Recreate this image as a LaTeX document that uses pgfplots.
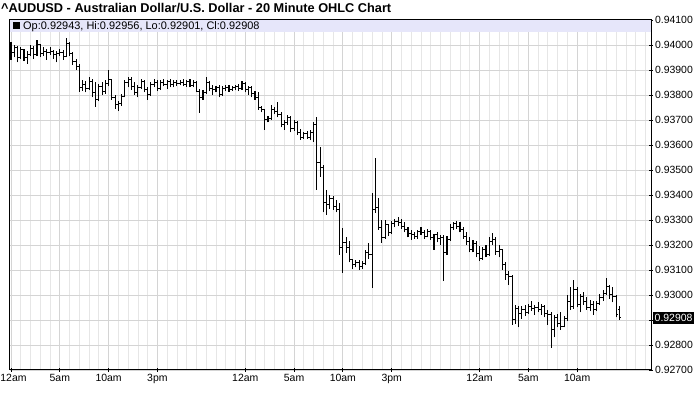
\documentclass[border=0pt]{standalone}
\usepackage{fontspec}
\setmainfont{Liberation Sans}
\usepackage{pgfplots}
\usepackage{pgfplotstable}
\pgfplotsset{compat=1.18}

\definecolor{band}{RGB}{230,230,250}
\definecolor{gridmin}{RGB}{230,230,230}
\definecolor{gridmaj}{RGB}{212,212,212}

% 20 minute bars, i = bar number from the first 12am
\pgfplotstableread{
i o h l c
0 0.93990 0.94010 0.93940 0.93970
1 0.93970 0.94000 0.93950 0.93990
2 0.93990 0.93995 0.93930 0.93950
3 0.93950 0.93990 0.93945 0.93980
4 0.93980 0.93985 0.93935 0.93950
5 0.93950 0.93975 0.93925 0.93960
6 0.93960 0.94000 0.93955 0.93985
7 0.93985 0.93995 0.93945 0.93960
8 0.93960 0.94020 0.93955 0.94000
9 0.94000 0.94005 0.93950 0.93965
10 0.93965 0.93990 0.93955 0.93975
11 0.93975 0.93985 0.93940 0.93970
12 0.93970 0.93990 0.93960 0.93975
13 0.93975 0.93980 0.93945 0.93960
14 0.93960 0.93975 0.93930 0.93965
15 0.93965 0.93985 0.93955 0.93970
16 0.93970 0.93980 0.93940 0.93955
17 0.93955 0.94028 0.93950 0.94005
18 0.94005 0.94010 0.93955 0.93965
19 0.93965 0.93970 0.93920 0.93935
20 0.93935 0.93945 0.93900 0.93915
21 0.93915 0.93925 0.93812 0.93830
22 0.93830 0.93860 0.93815 0.93840
23 0.93840 0.93855 0.93810 0.93825
24 0.93825 0.93870 0.93820 0.93855
25 0.93855 0.93862 0.93790 0.93810
26 0.93810 0.93850 0.93752 0.93780
27 0.93780 0.93845 0.93775 0.93835
28 0.93835 0.93850 0.93800 0.93815
29 0.93815 0.93860 0.93805 0.93845
30 0.93845 0.93900 0.93835 0.93860
31 0.93860 0.93865 0.93780 0.93790
32 0.93790 0.93800 0.93745 0.93760
33 0.93760 0.93775 0.93735 0.93765
34 0.93765 0.93805 0.93755 0.93795
35 0.93795 0.93860 0.93790 0.93850
36 0.93850 0.93870 0.93830 0.93860
37 0.93860 0.93870 0.93820 0.93835
38 0.93835 0.93850 0.93800 0.93810
39 0.93810 0.93840 0.93790 0.93830
40 0.93830 0.93865 0.93825 0.93855
41 0.93855 0.93860 0.93810 0.93820
42 0.93820 0.93830 0.93780 0.93800
43 0.93800 0.93850 0.93795 0.93840
44 0.93840 0.93865 0.93830 0.93850
45 0.93850 0.93860 0.93815 0.93825
46 0.93825 0.93860 0.93820 0.93850
47 0.93850 0.93865 0.93835 0.93840
48 0.93840 0.93860 0.93825 0.93855
49 0.93855 0.93862 0.93830 0.93840
50 0.93840 0.93858 0.93830 0.93850
51 0.93850 0.93860 0.93835 0.93845
52 0.93845 0.93860 0.93838 0.93850
53 0.93850 0.93862 0.93835 0.93840
54 0.93840 0.93860 0.93832 0.93852
55 0.93852 0.93862 0.93830 0.93838
56 0.93838 0.93860 0.93830 0.93850
57 0.93850 0.93855 0.93810 0.93815
58 0.93815 0.93825 0.93728 0.93790
59 0.93790 0.93820 0.93780 0.93810
60 0.93810 0.93872 0.93805 0.93850
61 0.93850 0.93855 0.93815 0.93825
62 0.93825 0.93840 0.93800 0.93820
63 0.93820 0.93835 0.93810 0.93830
64 0.93830 0.93840 0.93790 0.93800
65 0.93800 0.93835 0.93795 0.93825
66 0.93825 0.93840 0.93815 0.93830
67 0.93830 0.93840 0.93812 0.93820
68 0.93820 0.93835 0.93815 0.93830
69 0.93830 0.93840 0.93818 0.93835
70 0.93835 0.93845 0.93815 0.93825
71 0.93825 0.93855 0.93820 0.93845
72 0.93845 0.93850 0.93810 0.93820
73 0.93820 0.93835 0.93800 0.93830
74 0.93830 0.93835 0.93790 0.93805
75 0.93805 0.93815 0.93780 0.93790
76 0.93790 0.93810 0.93740 0.93750
77 0.93750 0.93755 0.93730 0.93740
78 0.93740 0.93745 0.93660 0.93700
79 0.93700 0.93715 0.93690 0.93705
80 0.93705 0.93760 0.93700 0.93740
81 0.93740 0.93750 0.93725 0.93735
82 0.93735 0.93772 0.93710 0.93720
83 0.93720 0.93730 0.93670 0.93680
84 0.93680 0.93700 0.93660 0.93690
85 0.93690 0.93720 0.93680 0.93710
86 0.93710 0.93715 0.93650 0.93665
87 0.93665 0.93700 0.93655 0.93690
88 0.93690 0.93695 0.93640 0.93650
89 0.93650 0.93665 0.93620 0.93630
90 0.93630 0.93650 0.93625 0.93645
91 0.93645 0.93655 0.93625 0.93630
92 0.93630 0.93660 0.93618 0.93650
93 0.93650 0.93690 0.93612 0.93680
94 0.93680 0.93712 0.93420 0.93530
95 0.93530 0.93592 0.93472 0.93510
96 0.93510 0.93520 0.93330 0.93370
97 0.93370 0.93420 0.93320 0.93360
98 0.93360 0.93400 0.93345 0.93385
99 0.93385 0.93395 0.93340 0.93355
100 0.93355 0.93380 0.93330 0.93340
101 0.93340 0.93368 0.93160 0.93190
102 0.93190 0.93268 0.93088 0.93210
103 0.93210 0.93230 0.93168 0.93190
104 0.93190 0.93215 0.93130 0.93140
105 0.93140 0.93145 0.93105 0.93120
106 0.93120 0.93140 0.93110 0.93130
107 0.93130 0.93140 0.93100 0.93115
108 0.93115 0.93135 0.93105 0.93125
109 0.93125 0.93180 0.93120 0.93170
110 0.93170 0.93208 0.93145 0.93160
111 0.93160 0.93408 0.93028 0.93340
112 0.93340 0.93548 0.93328 0.93350
113 0.93350 0.93388 0.93260 0.93270
114 0.93270 0.93300 0.93208 0.93230
115 0.93230 0.93300 0.93225 0.93280
116 0.93280 0.93285 0.93235 0.93250
117 0.93250 0.93295 0.93245 0.93285
118 0.93285 0.93305 0.93270 0.93295
119 0.93295 0.93312 0.93275 0.93290
120 0.93290 0.93305 0.93265 0.93275
121 0.93275 0.93290 0.93250 0.93260
122 0.93260 0.93270 0.93230 0.93245
123 0.93245 0.93260 0.93220 0.93240
124 0.93240 0.93250 0.93225 0.93235
125 0.93235 0.93260 0.93225 0.93255
126 0.93255 0.93270 0.93240 0.93250
127 0.93250 0.93260 0.93225 0.93235
128 0.93235 0.93265 0.93230 0.93255
129 0.93255 0.93260 0.93220 0.93230
130 0.93230 0.93245 0.93180 0.93240
131 0.93240 0.93250 0.93210 0.93225
132 0.93225 0.93240 0.93200 0.93230
133 0.93230 0.93240 0.93055 0.93170
134 0.93170 0.93235 0.93160 0.93220
135 0.93220 0.93285 0.93215 0.93270
136 0.93270 0.93292 0.93260 0.93285
137 0.93285 0.93295 0.93265 0.93275
138 0.93275 0.93290 0.93250 0.93260
139 0.93260 0.93270 0.93225 0.93235
140 0.93235 0.93250 0.93200 0.93215
141 0.93215 0.93230 0.93170 0.93180
142 0.93180 0.93220 0.93170 0.93205
143 0.93205 0.93215 0.93150 0.93165
144 0.93165 0.93195 0.93135 0.93145
145 0.93145 0.93190 0.93140 0.93180
146 0.93180 0.93200 0.93150 0.93160
147 0.93160 0.93230 0.93155 0.93215
148 0.93215 0.93248 0.93200 0.93220
149 0.93220 0.93230 0.93160 0.93175
150 0.93175 0.93200 0.93150 0.93180
151 0.93180 0.93185 0.93100 0.93120
152 0.93120 0.93130 0.93060 0.93080
153 0.93080 0.93095 0.93040 0.93075
154 0.93075 0.93080 0.92880 0.92900
155 0.92900 0.92960 0.92885 0.92945
156 0.92945 0.92955 0.92870 0.92925
157 0.92925 0.92955 0.92905 0.92940
158 0.92940 0.92960 0.92915 0.92930
159 0.92930 0.92965 0.92925 0.92955
160 0.92955 0.92975 0.92935 0.92945
161 0.92945 0.92960 0.92920 0.92950
162 0.92950 0.92970 0.92930 0.92940
163 0.92940 0.92965 0.92920 0.92955
164 0.92955 0.92960 0.92910 0.92925
165 0.92925 0.92940 0.92880 0.92920
166 0.92920 0.92930 0.92788 0.92860
167 0.92860 0.92920 0.92830 0.92910
168 0.92910 0.92925 0.92870 0.92885
169 0.92885 0.92930 0.92860 0.92875
170 0.92875 0.92915 0.92870 0.92905
171 0.92905 0.93000 0.92895 0.92975
172 0.92975 0.93030 0.92940 0.92955
173 0.92955 0.93060 0.92945 0.93020
174 0.93020 0.93030 0.92950 0.92960
175 0.92960 0.93005 0.92930 0.92995
176 0.92995 0.93010 0.92960 0.92975
177 0.92975 0.92990 0.92940 0.92950
178 0.92950 0.92980 0.92935 0.92960
179 0.92960 0.92975 0.92920 0.92940
180 0.92940 0.92975 0.92935 0.92965
181 0.92965 0.93005 0.92960 0.92990
182 0.92990 0.93020 0.92975 0.93005
183 0.93005 0.93068 0.93000 0.93035
184 0.93035 0.93040 0.92985 0.93000
185 0.93000 0.93030 0.92970 0.92995
186 0.92995 0.93000 0.92910 0.92920
187 0.92943 0.92956 0.92901 0.92908
}\ohlc

\begin{document}
\begin{tikzpicture}
\useasboundingbox (0,0) rectangle (700bp,411bp);
\begin{axis}[
    at={(10bp,41bp)}, anchor=south west,
    scale only axis, width=641bp, height=350bp,
    xmin=-0.31, xmax=196.7,
    ymin=0.927, ymax=0.941,
    clip=false,
    axis line style={black, line width=1bp},
    font=\fontsize{10.5}{12}\selectfont,
    xtick={0,15,30,45,72,87,102,117,144,159,174},
    xticklabels={\kern5bp 12am,5am,10am,3pm,12am,5am,10am,3pm,12am,5am,10am},
    minor xtick={0,3,...,195},
    ytick={0.927,0.928,0.929,0.930,0.931,0.932,0.933,0.934,0.935,0.936,0.937,0.938,0.939,0.940,0.941},
    yticklabels={0.92700,0.92800,,0.93000,0.93100,0.93200,0.93300,0.93400,0.93500,0.93600,0.93700,0.93800,0.93900,0.94000,0.94100},
    xtick pos=bottom, ytick pos=right, yticklabel pos=right,
    tick align=center, major tick length=4bp, minor tick length=0pt,
    tick style={black, line width=0.8bp},
    xmajorgrids, xminorgrids, ymajorgrids,
    major grid style={gridmaj, line width=0.8bp},
    minor grid style={gridmin, line width=0.8bp},
    yticklabel style={xshift=-1.5bp},
    xticklabel style={yshift=1bp},
]
% quote band
\fill[band] (rel axis cs:0,1) rectangle (rel axis cs:1,0.9657);

% high-low range
\addplot[draw=none, mark=none, forget plot,
    error bars/.cd, y dir=plus, y explicit, error mark=none,
    error bar style={draw=black, line width=1.1bp}]
    table[x=i, y=l, y error expr=\thisrow{h}-\thisrow{l}] {\ohlc};
% open tick
\addplot[draw=none, mark=none, forget plot,
    error bars/.cd, x dir=minus, x fixed=0.55, error mark=none,
    error bar style={draw=black, line width=1bp}]
    table[x=i, y=o] {\ohlc};
% close tick
\addplot[draw=none, mark=none, forget plot,
    error bars/.cd, x dir=plus, x fixed=0.55, error mark=none,
    error bar style={draw=black, line width=1bp}]
    table[x=i, y=c] {\ohlc};

\node[anchor=west, inner sep=0pt, font=\fontsize{11}{12}\selectfont]
    at ([xshift=3bp,yshift=-6.5bp]rel axis cs:0,1)
    {\rule{7bp}{7bp}\kern3bp Op:0.92943, Hi:0.92956, Lo:0.92901, Cl:0.92908};
\node[anchor=west, fill=black, text=white, inner xsep=1.5bp, inner ysep=2bp,
    font=\fontsize{10.5}{12}\selectfont]
    at ([xshift=2bp]axis cs:196.7,0.92908) {0.92908};
\end{axis}
\node[anchor=west, inner sep=0pt, font=\bfseries\fontsize{12.8}{14}\selectfont]
    at (1bp,403bp) {\^{}AUDUSD - Australian Dollar/U.S. Dollar - 20 Minute OHLC Chart};
\end{tikzpicture}
\end{document}
